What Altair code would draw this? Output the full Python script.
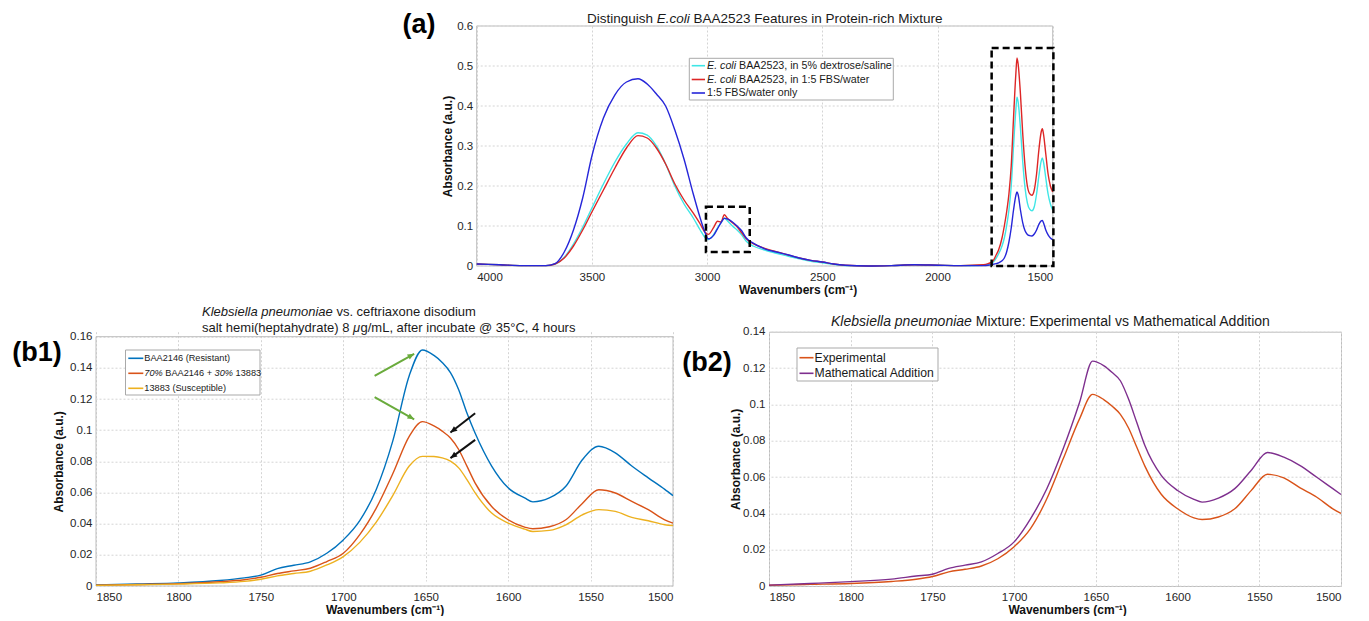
import math
import altair as alt
import pandas as pd

FONT = "Liberation Sans"
TXT = "#1a1a1a"
XTITLE = "Wavenumbers (cm\u207b\u00b9)"
YTITLE = "Absorbance (a.u.)"
GRID = "#d4d4d4"
FRAME = "#bdbdbd"

# ---------------- Panel (a) data ----------------
A_WN = [4000, 3900, 3800, 3700, 3660, 3620, 3580, 3540, 3500, 3450,
        3400, 3350, 3300, 3260, 3220, 3180, 3140, 3100, 3060, 3030,
        3010, 2995, 2970, 2955, 2940, 2925, 2910, 2890, 2870, 2850,
        2830, 2800, 2750, 2700, 2650, 2600, 2550, 2500, 2450, 2400,
        2300, 2200, 2100, 2000, 1900, 1800, 1780, 1760, 1745, 1735,
        1720, 1710, 1700, 1690, 1680, 1670, 1660, 1655, 1650, 1640,
        1630, 1620, 1610, 1600, 1590, 1580, 1570, 1560, 1550, 1545,
        1540, 1530, 1520, 1510, 1500]
A_CYAN = [0.005, 0.003, 0.001, 0.001, 0.005, 0.022, 0.055, 0.097, 0.145, 0.205,
          0.26, 0.305, 0.333, 0.327, 0.3, 0.255, 0.2, 0.155, 0.12, 0.09,
          0.072, 0.066, 0.08, 0.095, 0.108, 0.12, 0.112, 0.1, 0.09, 0.078,
          0.062, 0.05, 0.04, 0.032, 0.025, 0.018, 0.012, 0.008, 0.004, 0.001,
          0.0, 0.001, 0.003, 0.002, 0.001, 0.002, 0.004, 0.009, 0.02, 0.03,
          0.05, 0.07, 0.1, 0.14, 0.2, 0.3, 0.39, 0.422, 0.41, 0.345,
          0.26, 0.195, 0.158, 0.142, 0.138, 0.148, 0.18, 0.225, 0.262, 0.27,
          0.26, 0.22, 0.18, 0.155, 0.14]
A_RED = [0.005, 0.003, 0.001, 0.001, 0.005, 0.02, 0.05, 0.09, 0.135, 0.19,
         0.245, 0.295, 0.326, 0.32, 0.295, 0.255, 0.205, 0.165, 0.132, 0.105,
         0.085, 0.079, 0.098, 0.112, 0.11, 0.128, 0.118, 0.108, 0.098, 0.083,
         0.068, 0.056, 0.044, 0.036, 0.028, 0.02, 0.014, 0.01, 0.005, 0.002,
         0.0, 0.001, 0.003, 0.002, 0.001, 0.003, 0.006, 0.012, 0.028, 0.04,
         0.07, 0.1, 0.135, 0.18, 0.25, 0.37, 0.48, 0.52, 0.505, 0.43,
         0.33, 0.25, 0.2, 0.181, 0.177, 0.19, 0.23, 0.29, 0.335, 0.343,
         0.33, 0.28, 0.23, 0.2, 0.185]
A_BLUE = [0.005, 0.003, 0.001, 0.001, 0.006, 0.035, 0.09, 0.17, 0.275, 0.37,
          0.428, 0.46, 0.468, 0.455, 0.43, 0.4, 0.34, 0.267, 0.18, 0.12,
          0.085, 0.068, 0.078, 0.093, 0.108, 0.119, 0.117, 0.11, 0.1, 0.088,
          0.07, 0.057, 0.043, 0.035, 0.028, 0.02, 0.014, 0.01, 0.005, 0.002,
          0.0, 0.001, 0.003, 0.002, 0.001, 0.001, 0.002, 0.004, 0.006, 0.008,
          0.013, 0.02, 0.035, 0.06, 0.095, 0.14, 0.176, 0.185, 0.178, 0.14,
          0.108, 0.088, 0.079, 0.076, 0.075, 0.08, 0.09, 0.104, 0.113, 0.114,
          0.108, 0.09, 0.078, 0.07, 0.066]
A_COLORS = ["#3fe6e6", "#dd2626", "#2626d9"]
A_XTICKS = [4000, 3500, 3000, 2500, 2000, 1500]
A_YTICKS = [0, 0.1, 0.2, 0.3, 0.4, 0.5, 0.6]
A_BOX_X1 = [3005, 1765]
A_BOX_X2 = [2815, 1497]
A_BOX_Y1 = [0.035, 0.0]
A_BOX_Y2 = [0.148, 0.545]

# ---------------- Panel (b1)/(b2) data ----------------
B_WN = [1850, 1825, 1800, 1775, 1760, 1750, 1740, 1730, 1720, 1710,
        1700, 1690, 1680, 1670, 1660, 1652, 1645, 1640, 1635, 1630,
        1625, 1620, 1610, 1600, 1590, 1585, 1575, 1565, 1555, 1545,
        1535, 1525, 1515, 1505, 1500]
B1_RES = [0.0006, 0.0013, 0.002, 0.0035, 0.0052, 0.007, 0.0112, 0.0133, 0.0155, 0.021,
          0.0296, 0.042, 0.062, 0.093, 0.135, 0.1515, 0.148, 0.1435, 0.137, 0.126,
          0.111, 0.098, 0.077, 0.063, 0.0565, 0.054, 0.0565, 0.064, 0.081, 0.0897,
          0.0855, 0.077, 0.0694, 0.062, 0.058]
B1_MIX = [0.0005, 0.001, 0.0015, 0.0027, 0.004, 0.0056, 0.008, 0.0097, 0.0114, 0.0157,
          0.021, 0.033, 0.05, 0.072, 0.096, 0.1055, 0.1027, 0.0994, 0.095, 0.0876,
          0.0769, 0.066, 0.051, 0.0425, 0.0378, 0.0367, 0.038, 0.0425, 0.053, 0.0618,
          0.0597, 0.0543, 0.049, 0.0425, 0.0404]
B1_SUS = [0.0004, 0.0008, 0.0012, 0.002, 0.003, 0.0043, 0.0065, 0.008, 0.0095, 0.0135,
          0.0189, 0.028, 0.041, 0.058, 0.077, 0.0832, 0.0831, 0.0822, 0.0801, 0.0758,
          0.0683, 0.0597, 0.0468, 0.0404, 0.0365, 0.035, 0.0357, 0.0393, 0.0457, 0.049,
          0.0479, 0.044, 0.0419, 0.0393, 0.0388]
B1_COLORS = ["#0072BD", "#D95319", "#EDB120"]
B1_YTICKS = [0, 0.02, 0.04, 0.06, 0.08, 0.1, 0.12, 0.14, 0.16]

B2_EXP = [0.0004, 0.0009, 0.0014, 0.0025, 0.0037, 0.0052, 0.0078, 0.0092, 0.011, 0.015,
          0.0216, 0.0316, 0.048, 0.07, 0.092, 0.1055, 0.1025, 0.099, 0.0945, 0.087,
          0.0765, 0.066, 0.0505, 0.0425, 0.0375, 0.0366, 0.038, 0.0425, 0.0525, 0.0615,
          0.0595, 0.054, 0.049, 0.0425, 0.04]
B2_ADD = [0.0005, 0.0014, 0.0024, 0.0038, 0.0055, 0.0065, 0.0097, 0.0115, 0.0133, 0.0179,
          0.0243, 0.037, 0.0535, 0.0755, 0.101, 0.1238, 0.1212, 0.1175, 0.113, 0.1029,
          0.0901, 0.0773, 0.0609, 0.0526, 0.0477, 0.0462, 0.0484, 0.0536, 0.0636, 0.0735,
          0.0709, 0.0663, 0.06, 0.0536, 0.0504]
B2_COLORS = ["#D95319", "#7E2F8E"]
B2_YTICKS = [0, 0.02, 0.04, 0.06, 0.08, 0.1, 0.12, 0.14]
B_XTICKS = [1850, 1800, 1750, 1700, 1650, 1600, 1550, 1500]

# arrows in (b1): start/end in data units
ARR_X1 = [1681, 1681, 1620, 1620]
ARR_Y1 = [0.1348, 0.1212, 0.1109, 0.0938]
ARR_X2 = [1657, 1657, 1635, 1635]
ARR_Y2 = [0.149, 0.107, 0.0985, 0.0821]
ARR_COLORS = ["#6aab3c", "#6aab3c", "#111111", "#111111"]

# ---------------- layout sizes ----------------
AOFF, AW, AH = 380.7, 576, 240   # panel (a) plot starts AOFF px right of (b1)'s left edge
BH = 254.3                       # row height of the bottom panels
B1W, B1TOP = 577, 5              # b1 plot starts 5px below the row top
B2W = 572

ONE = pd.DataFrame({"d": [0]})

ARIAL = {" ": 278, "!": 278, "%": 889, "(": 333, ")": 333, "+": 584, ",": 278, "-": 333,
         ".": 278, "/": 278, ":": 278, "@": 1015, "\u00b0": 400, "\u03bc": 576,
         "A": 667, "B": 667, "C": 722, "D": 722, "E": 667, "F": 611, "G": 778, "H": 722,
         "I": 278, "J": 500, "K": 667, "L": 556, "M": 833, "N": 722, "O": 778, "P": 667,
         "Q": 778, "R": 722, "S": 667, "T": 611, "U": 722, "V": 667, "W": 944, "X": 667,
         "Y": 667, "Z": 611, "a": 556, "b": 556, "c": 500, "d": 556, "e": 556, "f": 278,
         "g": 556, "h": 556, "i": 222, "j": 222, "k": 500, "l": 222, "m": 833, "n": 556,
         "o": 556, "p": 556, "q": 556, "r": 333, "s": 500, "t": 278, "u": 556, "v": 500,
         "w": 722, "x": 500, "y": 500, "z": 500}


def tw(s, size):
    return sum(ARIAL.get(c, 556) for c in s) * size / 1000.0


def txt(s, x, y, size, italic=False, bold=False, align="left", baseline="alphabetic", color=TXT):
    return alt.Chart(ONE).mark_text(
        text=s, font=FONT, fontSize=size,
        fontStyle="italic" if italic else "normal",
        fontWeight="bold" if bold else "normal",
        align=align, baseline=baseline, color=color,
    ).encode(x=alt.value(x), y=alt.value(y))


def rich(parts, x, y, size, center=False, baseline="alphabetic"):
    total = sum(tw(p, size) for p, _ in parts)
    cx = x - total / 2 if center else x
    out = []
    for p, it in parts:
        lead = len(p) - len(p.lstrip(" "))
        out.append(txt(p.strip(" "), cx + tw(" " * lead, size), y, size, italic=it, baseline=baseline))
        cx += tw(p, size)
    return out


def legend(x0, x1, y0, y1, lx0, lx1, tx, size, entries):
    layers = [alt.Chart(ONE).mark_rect(fill="white", stroke="#a9a9a9", strokeWidth=1).encode(
        x=alt.value(x0), x2=alt.value(x1), y=alt.value(y0), y2=alt.value(y1))]
    for yy, color, parts in entries:
        layers.append(alt.Chart(ONE).mark_rule(color=color, strokeWidth=1.6).encode(
            x=alt.value(lx0), x2=alt.value(lx1), y=alt.value(yy)))
        layers += rich(parts, tx, yy, size, baseline="middle")
    return layers


def frame(x0, x1, y0, y1):
    return alt.Chart(ONE).mark_rect(fill="transparent", stroke=FRAME, strokeWidth=1).encode(
        x=alt.value(x0), x2=alt.value(x1), y=alt.value(y0), y2=alt.value(y1))


# ---- panel (a) encodings: x scale range placed at AOFF..AOFF+AW ----
def a_x(field):
    return alt.X(field, type="quantitative",
                 scale=alt.Scale(domain=[4000, 1500], range=[AOFF, AOFF + AW], nice=False, zero=False),
                 axis=alt.Axis(values=A_XTICKS, format="d", title=XTITLE, titleX=AOFF + AW / 2 + 33))


def a_y(field):
    return alt.Y(field, type="quantitative",
                 scale=alt.Scale(domain=[0, 0.6], nice=False, zero=False),
                 axis=alt.Axis(values=A_YTICKS, format="~g", title=YTITLE, titlePadding=2,
                               offset=-AOFF, grid=False))


def b_x(field, tx):
    return alt.X(field, type="quantitative",
                 scale=alt.Scale(domain=[1500, 1850], reverse=True, nice=False, zero=False),
                 axis=alt.Axis(values=B_XTICKS, format="d", title=XTITLE, titleX=tx))


def b_y(field, dom, ticks, tpad, rng=None):
    sc = alt.Scale(domain=dom, nice=False, zero=False, range=rng) if rng else \
        alt.Scale(domain=dom, nice=False, zero=False)
    return alt.Y(field, type="quantitative", scale=sc,
                 axis=alt.Axis(values=ticks, format="~g", title=YTITLE, titlePadding=tpad))


def line(df_x, df_y, color, xe, ye):
    df = pd.DataFrame({"wn": df_x, "absb": df_y})
    return alt.Chart(df).mark_line(color=color, strokeWidth=1.4, interpolate="monotone").encode(
        x=xe, y=ye)


# ---------------- Panel (a) ----------------
a_layers = [frame(AOFF, AOFF + AW, 0, AH)]
a_layers.append(alt.Chart(pd.DataFrame({"gy": A_YTICKS})).mark_rule(
    color=GRID, strokeDash=[2, 2], strokeWidth=1).encode(
    y=a_y("gy"), x=alt.value(AOFF), x2=alt.value(AOFF + AW)))
a_layers += [line(A_WN, v, c, a_x("wn"), a_y("absb"))
             for v, c in zip([A_CYAN, A_RED, A_BLUE], A_COLORS)]
box_df = pd.DataFrame({"bx1": A_BOX_X1, "bx2": A_BOX_X2, "by1": A_BOX_Y1, "by2": A_BOX_Y2})
a_layers.append(alt.Chart(box_df).mark_rect(fill="transparent", stroke="black", strokeWidth=2.5,
                                            strokeDash=[7, 4]).encode(
    x=a_x("bx1"), x2="bx2", y=a_y("by1"), y2="by2"))
a_layers += rich([("Distinguish ", False), ("E.coli", True),
                  (" BAA2523 Features in Protein-rich Mixture", False)],
                 AOFF + AW / 2, -3, 13.5, center=True)
a_layers.append(txt("(a)", AOFF - 57.7, -1, 27, bold=True, align="center", baseline="middle",
                    color="#000"))
a_layers += legend(AOFF + 212.6, AOFF + 416.6, 32.3, 74, AOFF + 215, AOFF + 228.3, AOFF + 230.3, 10.7, [
    (39.7, A_COLORS[0], [("E. coli", True), (" BAA2523, in 5% dextrose/saline", False)]),
    (53.5, A_COLORS[1], [("E. coli", True), (" BAA2523, in 1:5 FBS/water", False)]),
    (67.0, A_COLORS[2], [("1:5 FBS/water only", False)]),
])
a_layers.append(alt.Chart(ONE).mark_rule(opacity=0, strokeWidth=1).encode(
    x=alt.value(AOFF), x2=alt.value(AOFF + 1), y=alt.value(-17.5)))
panel_a = alt.layer(*a_layers).properties(width=B1W, height=AH,
                                          view=alt.ViewBackground(stroke="transparent"))

# ---------------- Panel (b1) ----------------
B1_RNG = [BH, B1TOP]
B1_TX = B1W / 2
b1_layers = [frame(0, B1W, B1TOP, BH)]
b1_layers += [line(B_WN, v, c, b_x("wn", B1_TX), b_y("absb", [0, 0.16], B1_YTICKS, 4, B1_RNG))
              for v, c in zip([B1_RES, B1_MIX, B1_SUS], B1_COLORS)]
pxx = B1W / 350.0
pxy = (BH - B1TOP) / 0.16
angs = []
for x1, y1, x2, y2 in zip(ARR_X1, ARR_Y1, ARR_X2, ARR_Y2):
    dx = -(x2 - x1) * pxx
    dy = -(y2 - y1) * pxy
    angs.append(math.degrees(math.atan2(dx, -dy)) % 360)
arr_df = pd.DataFrame({"ax1": ARR_X1, "ay1": ARR_Y1, "ax2": ARR_X2, "ay2": ARR_Y2,
                       "col": ARR_COLORS, "ang": angs})
b1_layers.append(alt.Chart(arr_df).mark_rule(strokeWidth=2).encode(
    x=b_x("ax1", B1_TX), x2="ax2",
    y=b_y("ay1", [0, 0.16], B1_YTICKS, 4, B1_RNG), y2="ay2",
    color=alt.Color("col:N", scale=None)))
b1_layers.append(alt.Chart(arr_df).mark_point(
    shape="M0,0 L-0.6,1.4 L0.6,1.4 Z", filled=True, size=90, opacity=1).encode(
    x=b_x("ax2", B1_TX),
    y=b_y("ay2", [0, 0.16], B1_YTICKS, 4, B1_RNG),
    angle=alt.Angle("ang:Q", scale=None),
    color=alt.Color("col:N", scale=None)))
b1_layers += rich([("Klebsiella pneumoniae", True), (" vs. ceftriaxone disodium", False)],
                  106, B1TOP - 20.7, 13)
b1_layers += rich([("salt hemi(heptahydrate) 8 ", False), ("\u03bc", True),
                   ("g/mL, after incubate @ 35\u00b0C, 4 hours", False)], 106, B1TOP - 5, 13)
b1_layers.append(txt("(b1)", -59, B1TOP + 16.6, 27, bold=True, align="center", baseline="middle",
                     color="#000"))
b1_layers += legend(29.5, 164, B1TOP + 13.3, B1TOP + 58.3, 32.3, 47.3, 48.3, 9.2, [
    (B1TOP + 21.6, B1_COLORS[0], [("BAA2146 (Resistant)", False)]),
    (B1TOP + 36.6, B1_COLORS[1], [("70%", True), (" BAA2146 + ", False), ("30%", True),
                                  (" 13883", False)]),
    (B1TOP + 51.6, B1_COLORS[2], [("13883 (Susceptible)", False)]),
])
b1_layers.append(alt.Chart(ONE).mark_rule(opacity=0, strokeWidth=1).encode(
    x=alt.value(-87.5), y=alt.value(100), y2=alt.value(101)))
panel_b1 = alt.layer(*b1_layers).properties(width=B1W, height=BH,
                                            view=alt.ViewBackground(stroke="transparent"))

# ---------------- Panel (b2) ----------------
B2_TX = B2W / 2 + 12
b2_layers = [line(B_WN, v, c, b_x("wn", B2_TX), b_y("absb", [0, 0.14], B2_YTICKS, 0))
             for v, c in zip([B2_EXP, B2_ADD], B2_COLORS)]
b2_layers += rich([("Klebsiella pneumoniae", True),
                   (" Mixture: Experimental vs Mathematical Addition", False)], 62, -5.7, 14)
b2_layers.append(txt("(b2)", -62, 31.6, 27, bold=True, align="center", baseline="middle", color="#000"))
b2_layers += legend(28, 169, 16.3, 49.3, 30.5, 44.5, 45.5, 12.2, [
    (26, B2_COLORS[0], [("Experimental", False)]),
    (41.6, B2_COLORS[1], [("Mathematical Addition", False)]),
])
panel_b2 = alt.layer(*b2_layers).properties(width=B2W, height=BH)

spacer = alt.Chart(ONE).mark_rule(opacity=0).encode(
    x=alt.value(0), y=alt.value(0), y2=alt.value(1)).properties(
    width=1, height=AH, view=alt.ViewBackground(stroke="transparent"))

chart = alt.concat(panel_a, spacer, panel_b1, panel_b2, columns=2, align="each",
                   bounds="flush", spacing={"row": 65.7, "column": 96}).properties(
    padding=0, background="white"
).configure_view(
    stroke=FRAME, strokeWidth=1
).configure_axis(
    labelFont=FONT, labelFontSize=11.5, labelColor="#262626",
    titleFont=FONT, titleFontSize=12, titleFontWeight="bold", titleColor="#111111",
    domain=False, ticks=False, grid=True, gridColor=GRID, gridDash=[2, 2], gridWidth=1,
).configure_axisX(
    labelPadding=5, titlePadding=2
).configure_axisY(
    labelPadding=4
)

chart.save("out.html", embed_options={"renderer": "svg", "actions": False})
